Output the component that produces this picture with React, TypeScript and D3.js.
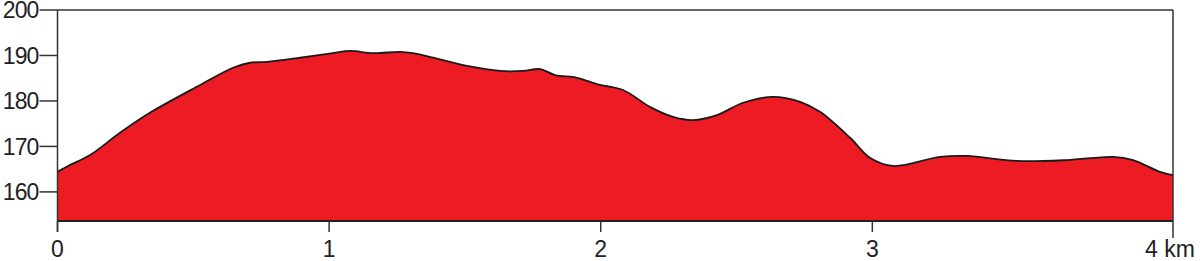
import React from "react";
import * as d3 from "d3";

const distanceKm = [0, 0.039, 0.12, 0.23, 0.34, 0.525, 0.646, 0.709, 0.771, 0.893, 1.014, 1.077, 1.162, 1.261, 1.309, 1.383, 1.508, 1.629, 1.714, 1.777, 1.832, 1.913, 1.986, 2.082, 2.181, 2.266, 2.34, 2.428, 2.524, 2.634, 2.734, 2.807, 2.918, 2.991, 3.076, 3.249, 3.348, 3.532, 3.717, 3.886, 3.96, 4.059, 4.107];
const elevation = [164.4, 165.7, 168.1, 173.0, 177.4, 183.5, 187.3, 188.4, 188.6, 189.5, 190.5, 191.0, 190.5, 190.8, 190.5, 189.5, 187.7, 186.6, 186.6, 187.0, 185.7, 185.1, 183.7, 182.4, 178.7, 176.5, 175.8, 176.9, 179.6, 180.9, 179.8, 177.6, 171.9, 167.5, 165.7, 167.7, 167.9, 166.8, 167.0, 167.7, 167.0, 164.4, 163.7];
const yTicks = [160, 170, 180, 190, 200];
const xTicks = [0, 1, 2, 3];
const xEndLabel = "4 km";
const totalKm = 4.107;
const yMin = 153.6;
const yMax = 200;

export default function App() {
  const W = 1200, H = 261;
  const left = 57.5, right = 1173, top = 10, bottom = 221;
  const x = d3.scaleLinear().domain([0, totalKm]).range([left, right]);
  const y = d3.scaleLinear().domain([yMin, yMax]).range([bottom, top]);
  const pts = distanceKm.map((d, i) => [d, elevation[i]] as [number, number]);
  const area = d3.area<[number, number]>().x(d => x(d[0])).y0(bottom).y1(d => y(d[1])).curve(d3.curveCatmullRom.alpha(0.5));
  const line = d3.line<[number, number]>().x(d => x(d[0])).y(d => y(d[1])).curve(d3.curveCatmullRom.alpha(0.5));
  const font = "'Liberation Sans', Arial, sans-serif";
  const axisColor = "#333";
  return (
    <svg width={W} height={H} style={{ position: "absolute", left: 0, top: 0 }}>
      <path d={area(pts) || ""} fill="#ED1C24" />
      <path d={line(pts) || ""} fill="none" stroke="#1a1a1a" strokeWidth={1.8} />
      <line x1={left} x2={right} y1={bottom} y2={bottom} stroke="#222" strokeWidth={2.2} />
      <line x1={left} x2={right} y1={top} y2={top} stroke={axisColor} strokeWidth={1.5} />
      <line x1={left} x2={left} y1={top} y2={bottom + 11} stroke={axisColor} strokeWidth={1.5} />
      <line x1={right} x2={right} y1={top} y2={bottom + 17} stroke={axisColor} strokeWidth={1.5} />
      {yTicks.map(t => (
        <g key={"y" + t}>
          <line x1={left - 18} x2={left} y1={y(t)} y2={y(t)} stroke={axisColor} strokeWidth={1.5} />
          <text x={left - 19} y={y(t)} dy="0.36em" textAnchor="end" fontFamily={font} fontSize={23} fill="#222" letterSpacing={-0.9}>{t}</text>
        </g>
      ))}
      {xTicks.map(t => (
        <g key={"x" + t}>
          <line x1={x(t)} x2={x(t)} y1={bottom} y2={bottom + 11} stroke={axisColor} strokeWidth={1.5} />
          <text x={x(t)} y={257} textAnchor="middle" fontFamily={font} fontSize={23} fill="#222">{t}</text>
        </g>
      ))}
      <text x={x(totalKm) - 28} y={257} textAnchor="start" fontFamily={font} fontSize={23} fill="#222">{xEndLabel}</text>
    </svg>
  );
}
